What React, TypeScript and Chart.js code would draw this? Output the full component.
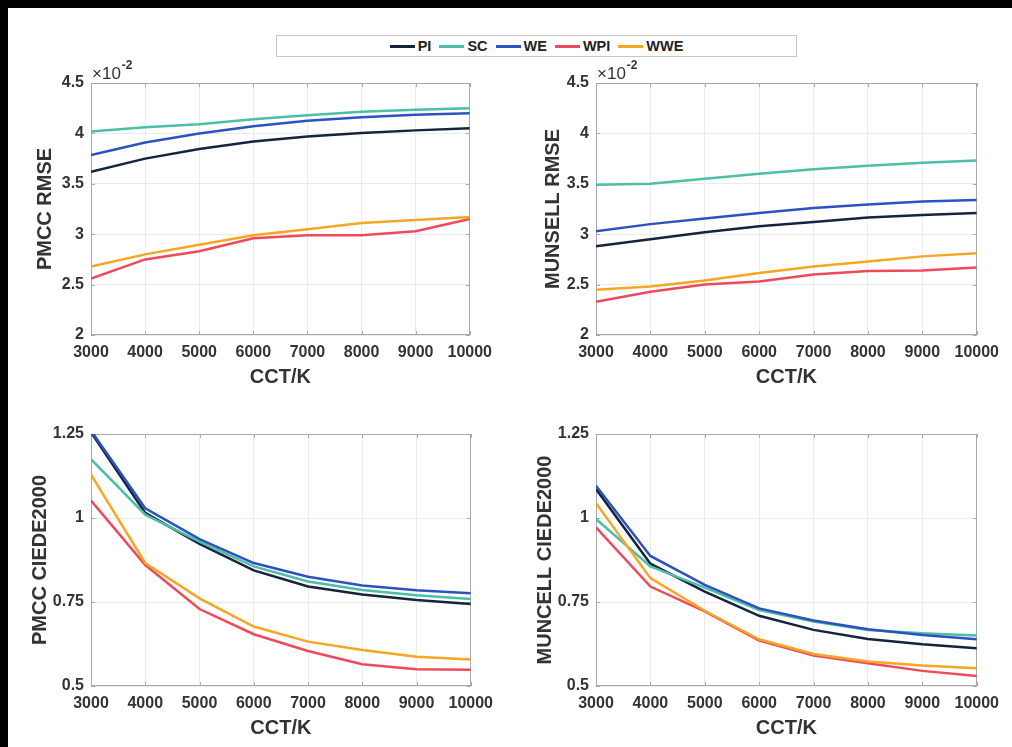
import React, { useEffect, useRef } from "react";
import { Chart, registerables } from "chart.js";

Chart.register(...registerables);

// ---------- data ----------
const cct = [3000, 4000, 5000, 6000, 7000, 8000, 9000, 10000];
const seriesNames = ["PI", "SC", "WE", "WPI", "WWE"];
const seriesColors = ["#15233f", "#4cbfa6", "#2c52c2", "#ef4a5b", "#f6a623"];

// PMCC RMSE
const pmccRmsePI = [0.0362, 0.0375, 0.03845, 0.0392, 0.0397, 0.04005, 0.0403, 0.0405];
const pmccRmseSC = [0.0402, 0.0406, 0.0409, 0.0414, 0.0418, 0.04215, 0.04235, 0.0425];
const pmccRmseWE = [0.03785, 0.0391, 0.04, 0.0407, 0.04125, 0.0416, 0.04185, 0.042];
const pmccRmseWPI = [0.0256, 0.0275, 0.0283, 0.0296, 0.0299, 0.0299, 0.0303, 0.0315];
const pmccRmseWWE = [0.0268, 0.028, 0.02895, 0.0299, 0.0305, 0.0311, 0.0314, 0.0317];

// MUNSELL RMSE
const munsellRmsePI = [0.0288, 0.0295, 0.0302, 0.0308, 0.0312, 0.03165, 0.0319, 0.0321];
const munsellRmseSC = [0.0349, 0.035, 0.0355, 0.036, 0.03645, 0.0368, 0.0371, 0.0373];
const munsellRmseWE = [0.0303, 0.031, 0.03155, 0.0321, 0.0326, 0.03295, 0.03325, 0.0334];
const munsellRmseWPI = [0.0233, 0.0243, 0.025, 0.0253, 0.026, 0.02635, 0.0264, 0.0267];
const munsellRmseWWE = [0.0245, 0.0248, 0.0254, 0.02615, 0.0268, 0.0273, 0.0278, 0.0281];

// PMCC CIEDE2000
const pmccDePI = [1.255, 1.015, 0.923, 0.844, 0.796, 0.772, 0.756, 0.744];
const pmccDeSC = [1.175, 1.01, 0.93, 0.856, 0.811, 0.786, 0.77, 0.759];
const pmccDeWE = [1.26, 1.029, 0.937, 0.866, 0.825, 0.799, 0.785, 0.776];
const pmccDeWPI = [1.052, 0.86, 0.729, 0.654, 0.604, 0.565, 0.55, 0.548];
const pmccDeWWE = [1.129, 0.866, 0.761, 0.677, 0.632, 0.607, 0.587, 0.579];

// MUNCELL CIEDE2000
const muncellDePI = [1.086, 0.864, 0.781, 0.709, 0.667, 0.64, 0.624, 0.612];
const muncellDeSC = [0.997, 0.856, 0.793, 0.726, 0.692, 0.667, 0.657, 0.65];
const muncellDeWE = [1.096, 0.887, 0.801, 0.731, 0.695, 0.669, 0.652, 0.639];
const muncellDeWPI = [0.972, 0.796, 0.722, 0.635, 0.591, 0.568, 0.545, 0.53];
const muncellDeWWE = [1.044, 0.821, 0.724, 0.639, 0.595, 0.573, 0.561, 0.553];

const rmseTicks = [0.02, 0.025, 0.03, 0.035, 0.04, 0.045];
const deTicks = [0.5, 0.75, 1, 1.25];

// ---------- styling ----------
const FONT = '"Liberation Sans", Arial, Helvetica, sans-serif';
const TEXT = "#333333";

const boxPlugin = {
  id: "matlabBox",
  beforeDatasetsDraw(chart: any) {
    const { ctx, chartArea: a, scales } = chart;
    ctx.save();
    ctx.strokeStyle = "#a9a9a9";
    ctx.lineWidth = 1;
    ctx.strokeRect(Math.round(a.left) + 0.5, Math.round(a.top) + 0.5, Math.round(a.right - a.left) - 1, Math.round(a.bottom - a.top) - 1);
    ctx.beginPath();
    scales.x.ticks.forEach((t: any) => {
      const px = Math.round(scales.x.getPixelForValue(t.value)) + 0.5;
      ctx.moveTo(px, a.bottom);
      ctx.lineTo(px, a.bottom - 4);
      ctx.moveTo(px, a.top);
      ctx.lineTo(px, a.top + 4);
    });
    scales.y.ticks.forEach((t: any) => {
      const py = Math.round(scales.y.getPixelForValue(t.value)) + 0.5;
      ctx.moveTo(a.left, py);
      ctx.lineTo(a.left + 4, py);
      ctx.moveTo(a.right, py);
      ctx.lineTo(a.right - 4, py);
    });
    ctx.stroke();
    ctx.restore();
  },
};

const exponentPlugin = {
  id: "exponent",
  afterDraw(chart: any) {
    const opts = chart.options.plugins.exponent;
    if (!opts || !opts.show) return;
    const { ctx, chartArea: a } = chart;
    ctx.save();
    ctx.fillStyle = TEXT;
    ctx.textBaseline = "middle";
    ctx.textAlign = "left";
    ctx.font = `17px ${FONT}`;
    const base = "×10";
    ctx.fillText(base, a.left + 1, a.top - 9);
    const w = ctx.measureText(base).width;
    ctx.font = `bold 12px ${FONT}`;
    ctx.fillText("-2", a.left + 2 + w, a.top - 17);
    ctx.restore();
  },
};

type PanelProps = {
  left: number;
  top: number;
  width: number;
  height: number;
  yWidth: number;
  yTitlePad: number;
  yTitle: string;
  values: number[][];
  yTicks: number[];
  scaleLabel: (v: number) => string;
  exponent: boolean;
};

function Panel(p: PanelProps) {
  const ref = useRef<HTMLCanvasElement>(null);
  useEffect(() => {
    const tickFont = { family: FONT, size: 16, weight: "bold" as const };
    const titleFont = { family: FONT, size: 20, weight: "bold" as const };
    const chart = new Chart(ref.current as HTMLCanvasElement, {
      type: "line",
      data: {
        datasets: seriesNames.map((name, i) => ({
          label: name,
          data: cct.map((x, j) => ({ x, y: p.values[i][j] })),
          borderColor: seriesColors[i],
          backgroundColor: seriesColors[i],
          borderWidth: 2.5,
          pointRadius: 0,
          tension: 0,
          order: seriesNames.length - 1 - i,
        })),
      },
      options: {
        animation: false,
        responsive: false,
        devicePixelRatio: 1,
        layout: { padding: { left: 0, top: 23, right: 30, bottom: 0 } },
        plugins: {
          legend: { display: false },
          tooltip: { enabled: false },
          // @ts-ignore
          exponent: { show: p.exponent },
        },
        scales: {
          x: {
            type: "linear",
            min: cct[0],
            max: cct[cct.length - 1],
            afterBuildTicks: (s: any) => {
              s.ticks = cct.map((v) => ({ value: v }));
            },
            afterFit: (s: any) => {
              s.height = 60;
            },
            ticks: {
              callback: (v: any) => String(v),
              padding: 8,
              font: tickFont,
              color: TEXT,
              maxRotation: 0,
              autoSkip: false,
            },
            grid: { color: "#ebebeb", drawTicks: false, lineWidth: 1 },
            border: { display: false },
            title: { display: true, text: "CCT/K", font: titleFont, color: TEXT, padding: { top: 0, bottom: 6 } },
          },
          y: {
            type: "linear",
            min: p.yTicks[0],
            max: p.yTicks[p.yTicks.length - 1],
            afterBuildTicks: (s: any) => {
              s.ticks = p.yTicks.map((v) => ({ value: v }));
            },
            afterFit: (s: any) => {
              s.width = p.yWidth;
            },
            ticks: {
              callback: (v: any) => p.scaleLabel(Number(v)),
              padding: 7,
              font: tickFont,
              color: TEXT,
              autoSkip: false,
            },
            grid: { color: "#ebebeb", drawTicks: false, lineWidth: 1 },
            border: { display: false },
            title: { display: true, text: p.yTitle, font: titleFont, color: TEXT, padding: { top: p.yTitlePad, bottom: 0 } },
          },
        },
      },
      plugins: [boxPlugin, exponentPlugin],
    } as any);
    return () => chart.destroy();
  }, []);
  return (
    <canvas
      ref={ref}
      width={p.width}
      height={p.height}
      style={{ position: "absolute", left: p.left, top: p.top, width: p.width, height: p.height }}
    />
  );
}

const rmseLabel = (v: number) => String(Math.round(v * 10000) / 100);
const deLabel = (v: number) => String(Math.round(v * 100) / 100);

export default function App() {
  useEffect(() => {
    document.documentElement.style.overflow = "hidden";
    document.documentElement.style.background = "#000";
    document.body.style.background = "#000";
    document.body.style.margin = "8px";
  }, []);

  return (
    <div style={{ position: "fixed", left: 8, top: 8, width: 1004, height: 739, background: "#fff", overflow: "hidden" }}>
      <div
        style={{
          position: "absolute",
          left: 268,
          top: 27,
          width: 521,
          height: 22,
          boxSizing: "border-box",
          border: "1px solid #c6c6c6",
          display: "flex",
          alignItems: "center",
          justifyContent: "center",
          fontFamily: FONT,
          fontWeight: "bold",
          fontSize: 14.5,
          color: "#222",
        }}
      >
        {seriesNames.map((n, i) => (
          <span key={n} style={{ display: "inline-flex", alignItems: "center", marginRight: i < seriesNames.length - 1 ? 8 : 0 }}>
            <span style={{ display: "inline-block", width: 25, height: 3, background: seriesColors[i], marginRight: 3 }} />
            <span>{n}</span>
          </span>
        ))}
      </div>

      <Panel left={0} top={52} width={492} height={335} yWidth={83} yTitlePad={25} yTitle="PMCC RMSE"
        values={[pmccRmsePI, pmccRmseSC, pmccRmseWE, pmccRmseWPI, pmccRmseWWE]} yTicks={rmseTicks} scaleLabel={rmseLabel} exponent={true} />
      <Panel left={500} top={52} width={499} height={335} yWidth={88} yTitlePad={33} yTitle="MUNSELL RMSE"
        values={[munsellRmsePI, munsellRmseSC, munsellRmseWE, munsellRmseWPI, munsellRmseWWE]} yTicks={rmseTicks} scaleLabel={rmseLabel} exponent={true} />
      <Panel left={0} top={403} width={493} height={335} yWidth={83} yTitlePad={20} yTitle="PMCC CIEDE2000"
        values={[pmccDePI, pmccDeSC, pmccDeWE, pmccDeWPI, pmccDeWWE]} yTicks={deTicks} scaleLabel={deLabel} exponent={false} />
      <Panel left={500} top={403} width={499} height={335} yWidth={88} yTitlePad={25} yTitle="MUNCELL CIEDE2000"
        values={[muncellDePI, muncellDeSC, muncellDeWE, muncellDeWPI, muncellDeWWE]} yTicks={deTicks} scaleLabel={deLabel} exponent={false} />
    </div>
  );
}
